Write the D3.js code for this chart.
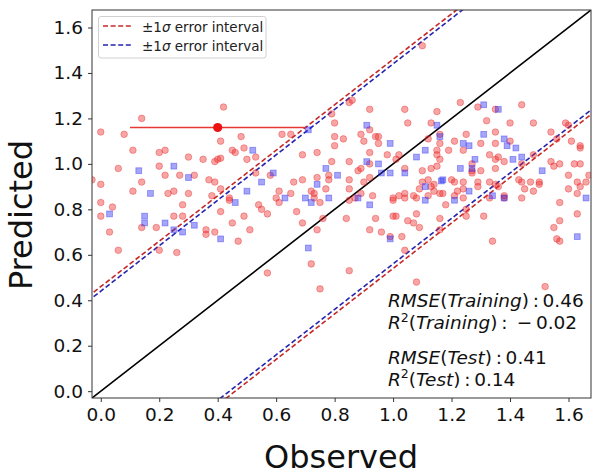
<!DOCTYPE html>
<html><head><meta charset="utf-8">
<script src="https://cdn.jsdelivr.net/npm/d3@7"></script>
<style>body{margin:0;background:#fff}svg{display:block}</style>
</head><body><svg id="c" width="601" height="475"></svg>
<script>
// ---- data ----
const axisLimits = [-0.03, 1.677];
const tickValues = [0.0, 0.2, 0.4, 0.6, 0.8, 1.0, 1.2, 1.4, 1.6];
const sigmaTraining = 0.46;
const sigmaTest = 0.44;
const errorPoint = [0.40, 1.16];
const errorPointXErr = 0.30;
const legendLabels = [["\u00b11",0],["\u03c3",1],[" error interval",0]];
const xLabel = "Observed";
const yLabel = "Predicted";
const trainPoints = [
[0.00,1.14],[0.14,1.20],[0.08,1.13],[0.42,1.25],[0.11,1.06],[0.20,1.05],[0.22,1.06],[0.41,1.10],[0.45,1.06],[0.46,1.05],
[0.49,1.07],[0.48,1.12],[0.30,1.03],[0.35,1.02],[0.39,1.01],[0.40,1.02],[0.41,1.025],[0.50,1.02],[0.53,1.03],[0.62,1.13],
[0.65,1.13],[0.69,1.04],[0.74,1.05],[0.80,1.18],[0.80,1.12],[0.79,1.22],[0.83,1.11],[0.80,1.08],[0.79,1.01],[0.85,1.01],
[0.85,1.27],[0.06,0.98],[0.20,0.99],[0.22,0.95],[0.27,0.95],[0.32,0.95],[0.14,0.92],[0.00,0.91],[-0.03,0.93],[0.37,0.93],
[0.39,0.92],[0.41,0.89],[0.11,0.88],[0.23,0.87],[0.25,0.88],[0.30,0.87],[0.44,0.85],[0.53,0.96],[0.58,0.95],[0.61,0.88],
[0.65,0.87],[0.66,0.92],[0.69,0.93],[0.72,0.88],[0.74,0.94],[0.77,0.89],[0.78,0.95],[0.78,0.93],[0.85,0.89],[0.60,0.85],
[0.73,0.85],[0.86,1.28],[0.92,1.24],[1.04,1.24],[1.15,1.23],[1.23,1.27],[1.29,1.25],[1.35,1.24],[1.44,1.26],[1.05,1.18],
[1.13,1.18],[1.32,1.19],[1.40,1.18],[1.48,1.18],[0.89,1.13],[0.92,1.15],[0.94,1.12],[0.95,1.12],[0.95,1.09],[0.90,1.10],
[1.12,1.11],[1.16,1.09],[1.16,1.13],[1.21,1.10],[1.25,1.13],[1.30,1.09],[1.35,1.14],[1.35,1.09],[1.40,1.10],[1.54,1.14],
[1.59,1.18],[1.60,1.17],[1.61,1.10],[1.64,1.07],[1.64,1.08],[1.56,1.11],[0.85,0.93],[0.88,0.97],[0.89,0.98],[0.90,0.92],
[0.92,1.05],[0.92,1.00],[0.92,0.94],[0.98,1.04],[1.01,1.02],[1.02,1.04],[1.04,0.98],[1.10,0.97],[1.13,0.98],[1.15,0.99],
[1.15,1.06],[1.15,1.04],[1.16,1.02],[1.19,1.06],[1.24,1.06],[1.27,1.00],[1.27,0.97],[1.30,0.97],[1.33,1.04],[1.35,1.02],
[1.38,1.01],[1.35,0.98],[1.48,1.04],[1.54,1.01],[1.57,1.00],[1.55,0.99],[1.62,1.00],[1.64,1.00],[1.67,0.95],[1.66,0.92],
[1.63,0.92],[1.64,0.90],[1.60,0.89],[1.10,0.92],[1.12,0.93],[1.13,0.90],[1.09,0.89],[1.20,0.93],[1.17,0.87],[1.22,0.88],
[1.24,0.89],[1.29,0.92],[1.33,0.92],[1.35,0.91],[1.43,0.93],[1.47,0.92],[1.50,0.92],[1.38,0.86],[1.45,0.89],[1.48,0.88],
[1.02,0.86],[0.89,0.87],[1.14,0.91],[1.21,0.92],[1.24,0.92],[1.27,0.96],[1.21,0.86],[1.36,1.03],[1.44,1.00],[1.44,0.92],
[1.50,0.91],[0.87,0.85],[0.93,0.86],[1.07,0.86],[1.00,0.85],[1.04,0.85],[1.24,0.85],[1.33,0.85],[1.38,0.85],[1.44,0.85],
[1.63,0.87],[1.60,0.95],[0.00,0.83],[0.04,0.81],[0.00,0.77],[0.03,0.70],[0.06,0.62],[0.14,0.72],[0.19,0.72],[0.20,0.62],
[0.26,0.61],[0.25,0.77],[0.28,0.77],[0.28,0.82],[0.36,0.71],[0.36,0.69],[0.39,0.70],[0.38,0.86],[0.41,0.79],[0.44,0.84],
[0.45,0.74],[0.47,0.66],[0.49,0.77],[0.51,0.71],[0.54,0.82],[0.55,0.80],[0.57,0.78],[0.61,0.83],[0.67,0.79],[0.69,0.74],
[0.75,0.83],[0.76,0.76],[0.74,0.71],[0.72,0.56],[0.57,0.52],[0.75,0.45],[0.84,0.76],[0.85,0.53],[0.73,0.87],[0.85,0.84],
[1.00,0.84],[1.04,0.87],[1.08,0.85],[1.12,0.86],[1.18,0.82],[0.94,0.76],[0.92,0.71],[0.96,0.70],[0.99,0.68],[1.00,0.77],
[1.01,0.77],[1.05,0.75],[1.08,0.78],[1.07,0.74],[1.09,0.72],[1.03,0.68],[1.04,0.62],[1.16,0.76],[1.16,0.71],[1.25,0.80],
[1.25,0.77],[1.31,0.77],[1.34,0.66],[1.08,0.48],[1.55,0.72],[1.57,0.83],[1.57,0.75],[1.56,0.67],[1.57,0.66],[1.63,0.78],
[1.52,0.46],[1.14,0.88],[1.16,0.87],[1.29,0.90],[1.36,0.90],[1.10,1.52]
];
const testPoints = [
[0.13,0.97],[0.25,0.99],[0.30,0.94],[0.52,1.06],[0.59,0.96],[0.55,0.92],[0.50,0.88],[0.17,0.87],[0.71,1.15],[0.77,0.98],
[0.74,0.91],[0.81,0.95],[0.78,0.85],[0.70,0.85],[0.63,0.85],[1.31,1.26],[1.36,1.24],[0.91,1.17],[1.15,1.17],[1.16,1.12],
[0.99,1.09],[1.11,1.06],[1.08,1.03],[1.24,1.09],[1.26,1.08],[1.31,1.13],[1.38,1.11],[1.39,1.08],[1.42,1.07],[1.28,1.02],
[1.41,1.02],[1.44,1.03],[0.91,1.01],[0.95,1.00],[0.96,0.96],[0.99,0.96],[1.04,0.96],[1.23,0.98],[1.27,0.98],[1.17,0.93],
[1.165,0.925],[1.51,0.97],[1.11,0.90],[1.26,0.88],[0.88,0.85],[1.66,0.85],[0.03,0.78],[0.15,0.77],[0.15,0.74],[0.22,0.74],
[0.25,0.71],[0.28,0.70],[0.32,0.73],[0.41,0.67],[0.46,0.83],[0.72,0.83],[0.71,0.63],[0.92,0.82],[0.99,0.67],[1.11,0.84],
[1.21,0.84],[1.34,0.86],[1.38,0.85],[1.63,0.68]
];
const annotations = [
  [["RMSE",1],["(",0],["Training",1],[")\u2009:\u20090.46",0]],
  [["R",1],["2",2],["(",0],["Training",1],[")\u2009:\u2002\u2212\u20090.02",0]],
  [["RMSE",1],["(",0],["Test",1],[")\u2009:\u20090.41",0]],
  [["R",1],["2",2],["(",0],["Test",1],[")\u2009:\u20090.14",0]]
];

// ---- layout ----
const M = {left: 92, top: 10, width: 499, height: 388};
const FONT = "DejaVu Sans, Verdana, sans-serif";
const RED = "#c62828", BLUE = "#2424b0";
const svg = d3.select("#c");
const x = d3.scaleLinear().domain(axisLimits).range([M.left, M.left + M.width]);
const y = d3.scaleLinear().domain(axisLimits).range([M.top + M.height, M.top]);

svg.append("defs").append("clipPath").attr("id","clip")
  .append("rect").attr("x",M.left).attr("y",M.top).attr("width",M.width).attr("height",M.height);
const plot = svg.append("g").attr("clip-path","url(#clip)");

// axes
const xAxis = svg.append("g").attr("transform",`translate(0,${M.top+M.height})`)
  .call(d3.axisBottom(x).tickValues(tickValues).tickFormat(d3.format(".1f")).tickSize(4).tickPadding(6));
const yAxis = svg.append("g").attr("transform",`translate(${M.left},0)`)
  .call(d3.axisLeft(y).tickValues(tickValues).tickFormat(d3.format(".1f")).tickSize(4).tickPadding(5));
[xAxis,yAxis].forEach(a=>{
  a.select(".domain").remove();
  a.selectAll(".tick line").attr("stroke","#333");
  a.selectAll(".tick text").attr("font-family",FONT).attr("font-size","18.5px").attr("fill","#111");
});

// reference lines
const line = d3.line().x(d=>x(d[0])).y(d=>y(d[1]));
const xs = axisLimits;
plot.append("path").attr("d",line(xs.map(v=>[v,v]))).attr("stroke","#000").attr("stroke-width",1.6).attr("fill","none");
[[sigmaTraining,RED],[sigmaTest,BLUE]].forEach(([s,c])=>{
  [s,-s].forEach(o=>{
    plot.append("path").attr("d",line([[xs[0]-1,xs[0]-1+o],[xs[1]+1,xs[1]+1+o]]))
      .attr("stroke",c).attr("stroke-width",1.6).attr("stroke-dasharray","5,2.6").attr("fill","none");
  });
});

// scatter
plot.append("g").selectAll("circle").data(trainPoints).join("circle")
  .attr("cx",d=>x(d[0])).attr("cy",d=>y(d[1])).attr("r",3.3)
  .attr("fill","rgba(235,40,40,0.42)").attr("stroke","rgba(235,40,40,0.42)").attr("stroke-width",0.9);
const sq = 5.8;
plot.append("g").selectAll("rect").data(testPoints).join("rect")
  .attr("x",d=>x(d[0])-sq/2).attr("y",d=>y(d[1])-sq/2).attr("width",sq).attr("height",sq)
  .attr("fill","rgba(40,40,240,0.42)").attr("stroke","rgba(40,40,240,0.42)").attr("stroke-width",0.9);

// error bar point
plot.append("line").attr("x1",x(errorPoint[0]-errorPointXErr)).attr("x2",x(errorPoint[0]+errorPointXErr))
  .attr("y1",y(errorPoint[1])).attr("y2",y(errorPoint[1])).attr("stroke","#e53935").attr("stroke-width",1.6);
plot.append("circle").attr("cx",x(errorPoint[0])).attr("cy",y(errorPoint[1])).attr("r",4.6).attr("fill","#ee1111");

// frame
svg.append("rect").attr("x",M.left).attr("y",M.top).attr("width",M.width).attr("height",M.height)
  .attr("fill","none").attr("stroke","#333").attr("stroke-width",1);

// legend
const lg = svg.append("g");
lg.append("rect").attr("x",98.5).attr("y",16.5).attr("width",167.5).attr("height",41.5).attr("rx",2.5)
  .attr("fill","#fff").attr("fill-opacity",0.85).attr("stroke","#d0d0d0");
[[RED,26,31.5],[BLUE,45,50.5]].forEach(([c,ly,ty])=>{
  lg.append("line").attr("x1",103).attr("x2",131).attr("y1",ly).attr("y2",ly)
    .attr("stroke",c).attr("stroke-width",1.6).attr("stroke-dasharray","5,2.6");
  const t = lg.append("text").attr("x",142).attr("y",ty).attr("font-family",FONT).attr("font-size","13.5px")
    .attr("fill","#222").attr("xml:space","preserve");
  legendLabels.forEach(([s,k])=>{
    const ts = t.append("tspan").text(s);
    if(k===1) ts.attr("font-style","italic");
  });
});

// annotations
const baselines = [306.5, 329, 363.5, 385.5];
annotations.forEach((parts,i)=>{
  const t = svg.append("text").attr("x",388).attr("y",baselines[i]).attr("font-family",FONT)
    .attr("font-size","18.5px").attr("fill","#111").attr("xml:space","preserve");
  parts.forEach(([s,k],j)=>{
    const ts = t.append("tspan").text(s);
    if(k===1) ts.attr("font-style","italic");
    if(k===2) ts.attr("font-size","12.5px").attr("dy",-7.5);
    else if(j>0 && parts[j-1][1]===2) ts.attr("dy",7.5);
  });
});

// axis labels
svg.append("text").attr("x",341).attr("y",468).attr("text-anchor","middle").attr("font-family",FONT)
  .attr("font-size","32px").attr("fill","#111").text(xLabel);
svg.append("text").attr("transform","translate(32,215) rotate(-90)").attr("text-anchor","middle")
  .attr("font-family",FONT).attr("font-size","32px").attr("fill","#111").text(yLabel);
</script></body></html>
